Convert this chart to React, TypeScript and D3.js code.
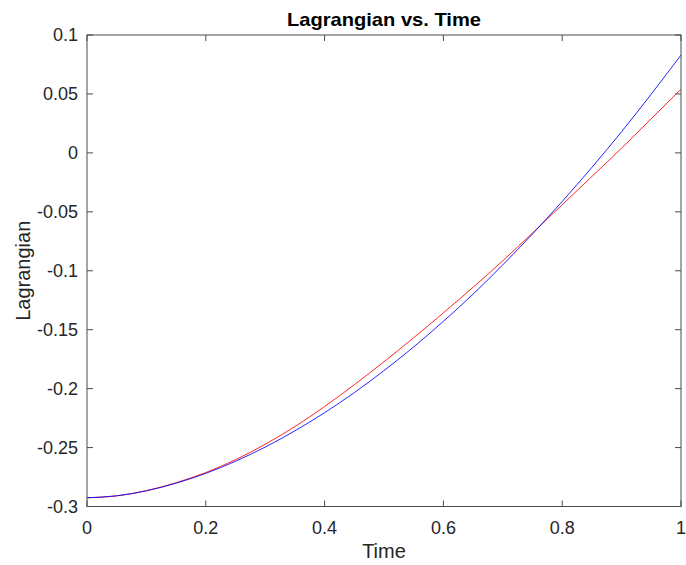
import React from "react";
import * as d3 from "d3";

const timeValues = [0, 0.05, 0.1, 0.15, 0.2, 0.25, 0.3, 0.35, 0.4, 0.45, 0.5, 0.55, 0.6, 0.65, 0.7, 0.75, 0.8, 0.85, 0.9, 0.95, 1];
const redValues = [-0.2926, -0.2910, -0.2866, -0.2798, -0.2712, -0.2603, -0.2472, -0.2322, -0.2152, -0.1967, -0.1772, -0.1568, -0.1357, -0.1140, -0.0915, -0.0680, -0.0440, -0.0200, 0.0040, 0.0290, 0.0540];
const blueValues = [-0.2926, -0.2909, -0.2867, -0.2802, -0.2719, -0.2616, -0.2496, -0.2358, -0.2204, -0.2034, -0.1847, -0.1646, -0.1429, -0.1198, -0.0950, -0.0688, -0.0412, -0.0123, 0.0180, 0.0499, 0.0830];
const xTicks = [0, 0.2, 0.4, 0.6, 0.8, 1];
const yTicks = [-0.3, -0.25, -0.2, -0.15, -0.1, -0.05, 0, 0.05, 0.1];

export default function App() {
  const W = 686, H = 565;
  const left = 87, right = 681, top = 35, bottom = 506.5;
  const x = d3.scaleLinear().domain([0, 1]).range([left, right]);
  const y = d3.scaleLinear().domain([-0.3, 0.1]).range([bottom, top]);
  const line = (vals: number[]) =>
    d3.line<number>().x((_, i) => x(timeValues[i])).y((d) => y(d)).curve(d3.curveMonotoneX)(vals) || "";
  const font = "'Liberation Sans', Arial, Helvetica, sans-serif";
  const txt = "#262626";
  const ax = "#4a4a4a";
  const tl = 6;
  return (
    <svg width={W} height={H} style={{ position: "absolute", left: 0, top: 0, background: "#fff" }} fontFamily={font}>
      <rect x={0} y={0} width={W} height={H} fill="#fff" />
      <path d={line(redValues)} fill="none" stroke="#ff0000" strokeWidth={1} strokeOpacity={0.85} />
      <path d={line(blueValues)} fill="none" stroke="#0000ff" strokeWidth={1} strokeOpacity={0.85} />
      <rect x={left} y={top} width={right - left} height={bottom - top} fill="none" stroke={ax} strokeWidth={1} />
      {xTicks.map((t) => (
        <g key={"x" + t}>
          <line x1={x(t)} x2={x(t)} y1={bottom} y2={bottom - tl} stroke={ax} />
          <line x1={x(t)} x2={x(t)} y1={top} y2={top + tl} stroke={ax} />
          <text x={x(t)} y={bottom + 27} fontSize={18} textAnchor="middle" fill={txt}>{String(t)}</text>
        </g>
      ))}
      {yTicks.map((t) => (
        <g key={"y" + t}>
          <line x1={left} x2={left + tl} y1={y(t)} y2={y(t)} stroke={ax} />
          <line x1={right} x2={right - tl} y1={y(t)} y2={y(t)} stroke={ax} />
          <text x={left - 9} y={y(t)} dy="0.35em" fontSize={18} textAnchor="end" fill={txt}>{String(t)}</text>
        </g>
      ))}
      <text x={(left + right) / 2} y={26} fontSize={19} fontWeight="bold" textAnchor="middle" fill="#000" textLength={194} lengthAdjust="spacingAndGlyphs">Lagrangian vs. Time</text>
      <text x={(left + right) / 2} y={558} fontSize={20} textAnchor="middle" fill={txt}>Time</text>
      <text transform={`translate(30, ${(top + bottom) / 2}) rotate(-90)`} fontSize={20} textAnchor="middle" fill={txt}>Lagrangian</text>
    </svg>
  );
}
